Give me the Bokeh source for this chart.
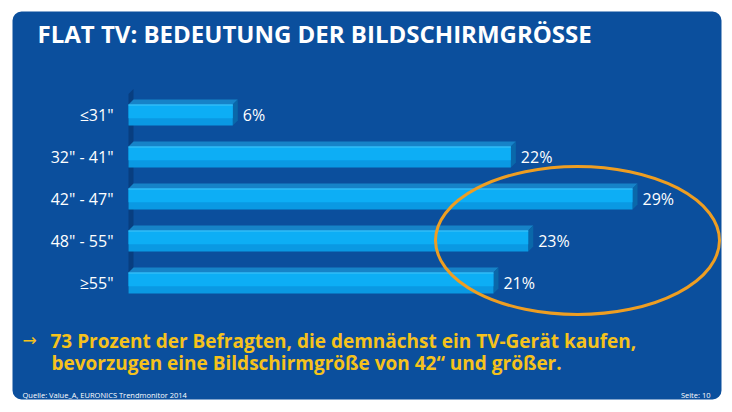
from bokeh.plotting import figure
from bokeh.models import Range1d, BoxAnnotation
from bokeh.core.properties import value
from bokeh.embed import file_html
from bokeh.resources import INLINE

# ---------------- data ----------------
categories = ['≤31"', '32" - 41"', '42" - 47"', '48" - 55"', '≥55"']
shares = [6, 22, 29, 23, 21]
value_labels = [f"{v}%" for v in shares]
title_text = "FLAT TV: BEDEUTUNG DER BILDSCHIRMGRÖSSE"
note_line1 = "73 Prozent der Befragten, die demnächst ein TV-Gerät kaufen,"
note_line2 = "bevorzugen eine Bildschirmgröße  von 42“ und größer."
source_text = "Quelle: Value_A, EURONICS Trendmonitor 2014"
page_text = "Seite: 10"

# ---------------- layout ----------------
W, H = 724, 404
OFF = 0
X0 = 128.0            # canvas px of 0 %
PX_PCT = 504.0 / 29   # px per percent
Y0 = 114.5            # canvas px of first row centre
ROW = 42.0            # px per row

def xd(page_x):
    return (page_x - OFF - X0) / PX_PCT

def yd(page_y):
    return -((page_y - OFF) - Y0) / ROW

x_range = Range1d(-X0 / PX_PCT, (W - X0) / PX_PCT)
y_range = Range1d(-(H - Y0) / ROW, Y0 / ROW)

p = figure(width=W, height=H, x_range=x_range, y_range=y_range,
           output_backend="svg", toolbar_location=None,
           x_axis_type=None, y_axis_type=None, min_border=0,
           background_fill_color="white", border_fill_color="white",
           outline_line_color=None)
p.grid.visible = False

BLUE = "#0B4F9D"
panel = BoxAnnotation(left=xd(12), right=xd(721), top=yd(11), bottom=yd(399),
                      fill_color=BLUE, fill_alpha=1, line_color=None,
                      border_radius=9, level="underlay")
p.add_layout(panel)

rows = [-i for i in range(len(categories))]
half = 10.5 / ROW                 # half height of bar front
ddx = 5.0 / PX_PCT                # depth offsets
ddy = 5.0 / ROW

# left 3D wall
yb = rows[-1] - half
yt = rows[0] + half + 0.25
p.patch([0, 0, ddx, ddx], [yb, yt, yt + ddy, yb + ddy],
        fill_color="#083E80", line_color=None)

# top and side faces
top_xs, top_ys, side_xs, side_ys = [], [], [], []
for r, v in zip(rows, shares):
    t, b = r + half, r - half
    top_xs.append([0, v, v + ddx, ddx])
    top_ys.append([t, t, t + ddy, t + ddy])
    side_xs.append([v, v, v + ddx, v + ddx])
    side_ys.append([b, t, t + ddy, b + ddy])
p.patches(top_xs, top_ys, fill_color="#1683C8", line_color=None)
p.patches(side_xs, side_ys, fill_color="#0A68AA", line_color=None)

# front faces with simple shading
p.hbar(y=rows, right=shares, left=0, height=2 * half, fill_color="#0A99E3", line_color=None)
p.hbar(y=[r + half * 0.35 for r in rows], right=shares, left=0, height=half * 1.3,
       fill_color="#0DAEF5", line_color=None)
p.hbar(y=[r + half - 0.5 / ROW for r in rows], right=shares, left=0, height=1.2 / ROW,
       fill_color="#45C3F8", line_color=None)

# labels
p.text(x=[xd(113)] * len(rows), y=rows, text=categories,
       text_font=value("Open Sans"), text_font_size="16px", text_color="white",
       text_align="right", text_baseline="middle")
p.text(x=shares, y=rows, text=value_labels, x_offset=10,
       text_font=value("Open Sans"), text_font_size="16px", text_color="white",
       text_align="left", text_baseline="middle")

# title
p.text(x=[xd(37)], y=[yd(33)], text=[title_text],
       text_font=value("Open Sans"), text_font_style="bold", text_font_size="24px",
       text_color="white", text_baseline="middle")

# yellow note
YEL = "#F5C21C"
p.text(x=[xd(22)], y=[yd(339)], text=["→"],
       text_font=value("DejaVu Sans"), text_font_size="17px",
       text_color=YEL, text_baseline="middle")
p.text(x=[xd(50), xd(51)], y=[yd(340), yd(362)], text=[note_line1, note_line2],
       text_font=value("Open Sans"), text_font_style="bold", text_font_size="19px",
       text_color=YEL, text_baseline="middle")

# footer
p.text(x=[xd(22)], y=[yd(394)], text=[source_text],
       text_font=value("Open Sans"), text_font_size="7.5px",
       text_color="white", text_baseline="middle")
p.text(x=[xd(710)], y=[yd(394)], text=[page_text],
       text_font=value("Open Sans"), text_font_size="7.5px",
       text_color="white", text_baseline="middle", text_align="right")

# highlight ellipse
p.ellipse(x=[xd(577)], y=[yd(240)], width=284, height=148,
          width_units="screen", height_units="screen",
          fill_color=None, line_color="#EE9E22", line_width=3)

open("out.html", "w").write(file_html(p, INLINE))
